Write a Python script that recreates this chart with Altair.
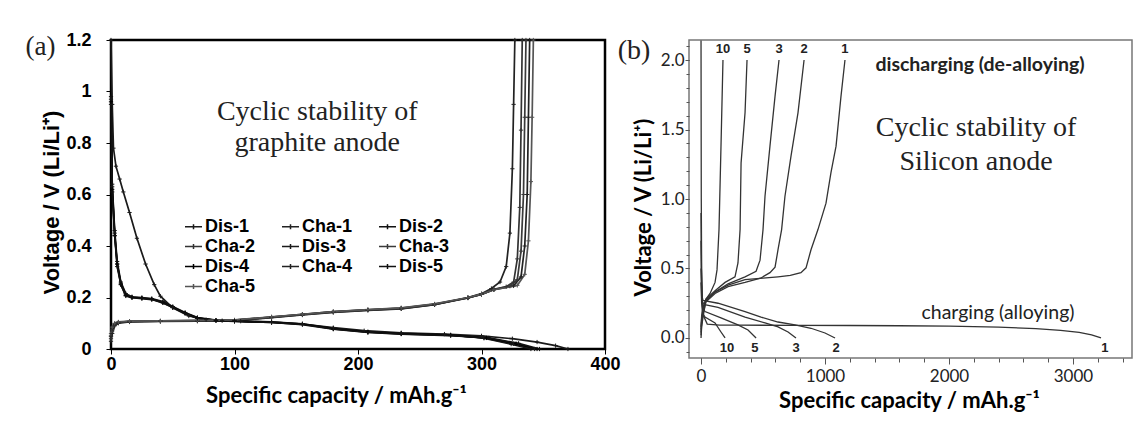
import altair as alt
import pandas as pd

# ---------------- Panel (a): graphite anode ----------------
a_series = ["Dis-1", "Cha-1", "Dis-2", "Cha-2", "Dis-3", "Cha-3", "Dis-4", "Cha-4", "Dis-5", "Cha-5"]
a_colors = ["#1a1a1a", "#222222", "#111111", "#333333", "#1a1a1a", "#3a3a3a", "#000000", "#222222", "#111111", "#555555"]

dis1_cap = [0, 1, 2, 4, 7, 10, 15, 21, 28, 35, 40, 50, 63, 77, 90, 105, 130, 155, 180, 205, 235, 270, 300, 325, 345, 360, 370]
dis1_v = [1.2, 0.95, 0.78, 0.71, 0.66, 0.61, 0.53, 0.43, 0.33, 0.25, 0.205, 0.16, 0.128, 0.114, 0.11, 0.108, 0.104, 0.097, 0.083, 0.071, 0.063, 0.058, 0.051, 0.04, 0.027, 0.013, 0.0]

dis2_cap = [0, 1, 3, 5, 8, 12, 17, 25, 33, 42, 50, 60, 70, 85, 100, 130, 155, 180, 208, 235, 275, 302, 324, 340]
dis2_v = [0.98, 0.64, 0.46, 0.34, 0.26, 0.215, 0.203, 0.2, 0.196, 0.184, 0.165, 0.142, 0.122, 0.112, 0.109, 0.105, 0.098, 0.08, 0.067, 0.061, 0.055, 0.042, 0.019, 0.0]
dis3_cap = [0, 1, 3, 5, 8, 12, 17, 25, 33, 42, 50, 60, 70, 85, 100, 130, 155, 180, 208, 235, 275, 302, 326, 343]
dis3_v = [0.97, 0.63, 0.45, 0.33, 0.255, 0.21, 0.201, 0.198, 0.194, 0.182, 0.163, 0.14, 0.121, 0.111, 0.108, 0.104, 0.097, 0.079, 0.066, 0.06, 0.054, 0.043, 0.02, 0.0]
dis4_cap = [0, 1, 3, 5, 8, 12, 17, 25, 33, 42, 50, 60, 70, 85, 100, 130, 155, 180, 208, 235, 275, 304, 328, 345]
dis4_v = [0.96, 0.62, 0.44, 0.33, 0.25, 0.208, 0.2, 0.197, 0.193, 0.18, 0.162, 0.139, 0.12, 0.111, 0.108, 0.103, 0.096, 0.078, 0.065, 0.059, 0.053, 0.043, 0.021, 0.0]
dis5_cap = [0, 1, 3, 5, 8, 12, 17, 25, 33, 42, 50, 60, 70, 85, 100, 130, 155, 180, 208, 235, 275, 306, 330, 347]
dis5_v = [0.95, 0.61, 0.44, 0.32, 0.25, 0.206, 0.199, 0.196, 0.192, 0.179, 0.161, 0.138, 0.119, 0.11, 0.107, 0.103, 0.095, 0.077, 0.064, 0.058, 0.052, 0.043, 0.022, 0.0]

cha1_cap = [0, 1, 3, 6, 15, 40, 70, 100, 130, 155, 180, 208, 235, 262, 289, 300, 308, 315, 320, 323, 325, 326, 327]
cha1_v = [0.03, 0.06, 0.09, 0.1, 0.105, 0.107, 0.108, 0.11, 0.122, 0.132, 0.142, 0.15, 0.156, 0.172, 0.2, 0.215, 0.235, 0.26, 0.32, 0.45, 0.7, 0.95, 1.2]
cha2_cap = [0, 1, 3, 6, 15, 40, 70, 100, 130, 155, 180, 208, 235, 262, 289, 300, 310, 320, 326, 329, 331, 332, 333]
cha2_v = [0.04, 0.07, 0.095, 0.102, 0.106, 0.108, 0.109, 0.111, 0.123, 0.133, 0.143, 0.151, 0.157, 0.172, 0.198, 0.213, 0.232, 0.242, 0.26, 0.35, 0.55, 0.85, 1.2]
cha3_cap = [0, 1, 3, 6, 15, 40, 70, 100, 130, 155, 180, 208, 235, 262, 289, 300, 310, 323, 329, 332, 334, 335, 336]
cha3_v = [0.05, 0.075, 0.097, 0.103, 0.107, 0.108, 0.11, 0.112, 0.124, 0.134, 0.144, 0.152, 0.158, 0.173, 0.198, 0.212, 0.231, 0.244, 0.27, 0.38, 0.6, 0.9, 1.2]
cha4_cap = [0, 1, 3, 6, 15, 40, 70, 100, 130, 155, 180, 208, 235, 262, 289, 300, 310, 326, 332, 335, 337, 338, 339]
cha4_v = [0.05, 0.08, 0.098, 0.104, 0.107, 0.109, 0.11, 0.112, 0.124, 0.135, 0.145, 0.152, 0.159, 0.174, 0.199, 0.212, 0.23, 0.245, 0.28, 0.4, 0.6, 0.9, 1.2]
cha5_cap = [0, 1, 3, 6, 15, 40, 70, 100, 130, 155, 180, 208, 235, 262, 289, 300, 310, 329, 335, 338, 340, 341, 342]
cha5_v = [0.06, 0.085, 0.1, 0.105, 0.108, 0.109, 0.111, 0.113, 0.125, 0.135, 0.145, 0.153, 0.16, 0.175, 0.2, 0.213, 0.23, 0.247, 0.29, 0.42, 0.65, 0.9, 1.2]

a_caps = {"Dis-1": dis1_cap, "Cha-1": cha1_cap, "Dis-2": dis2_cap, "Cha-2": cha2_cap, "Dis-3": dis3_cap,
          "Cha-3": cha3_cap, "Dis-4": dis4_cap, "Cha-4": cha4_cap, "Dis-5": dis5_cap, "Cha-5": cha5_cap}
a_volts = {"Dis-1": dis1_v, "Cha-1": cha1_v, "Dis-2": dis2_v, "Cha-2": cha2_v, "Dis-3": dis3_v,
           "Cha-3": cha3_v, "Dis-4": dis4_v, "Cha-4": cha4_v, "Dis-5": dis5_v, "Cha-5": cha5_v}

a_x_ticks = [0, 100, 200, 300, 400]
a_y_ticks = [0, 0.2, 0.4, 0.6, 0.8, 1.0, 1.2]

a_note_text = ["Cyclic stability of", "graphite anode", "(a)"]
a_note_cap = [167, 167, -57]
a_note_v = [0.891, 0.767, 1.14]
a_note_size = [28, 28, 27]

# ---------------- Panel (b): silicon anode ----------------
b_dis_cap = {
    "1": [0, 5, 16, 40, 113, 218, 355, 500, 621, 720, 806, 847, 887, 943, 1008, 1048, 1089, 1129, 1161],
    "2": [0, 5, 16, 40, 113, 218, 355, 480, 556, 597, 621, 650, 677, 726, 782, 831],
    "3": [0, 5, 16, 40, 113, 218, 355, 444, 476, 500, 516, 556, 597, 629],
    "5": [0, 5, 16, 40, 113, 194, 274, 298, 315, 323, 355, 371],
    "10": [0, 5, 16, 40, 73, 113, 129, 145, 161, 177],
}
b_dis_v = {
    "1": [0.0, 0.08, 0.15, 0.27, 0.33, 0.38, 0.42, 0.43, 0.44, 0.45, 0.47, 0.505, 0.635, 0.78, 0.97, 1.19, 1.38, 1.74, 2.0],
    "2": [0.02, 0.1, 0.18, 0.26, 0.32, 0.37, 0.40, 0.43, 0.47, 0.51, 0.635, 0.78, 1.02, 1.31, 1.62, 2.0],
    "3": [0.04, 0.12, 0.2, 0.27, 0.33, 0.39, 0.44, 0.48, 0.56, 0.78, 1.02, 1.38, 1.74, 2.0],
    "5": [0.06, 0.14, 0.21, 0.28, 0.34, 0.40, 0.44, 0.54, 0.78, 1.26, 1.62, 2.0],
    "10": [0.08, 0.16, 0.22, 0.28, 0.32, 0.40, 0.49, 0.78, 1.38, 2.0],
}
b_cha_cap = {
    "1": [0, 2, 5, 10, 20, 50, 150, 300, 800, 1200, 1600, 2000, 2400, 2700, 2900, 3050, 3150, 3226],
    "2": [0, 3, 8, 16, 137, 355, 484, 621, 758, 887, 1000, 1081],
    "3": [0, 4, 10, 30, 137, 355, 516, 621, 702, 766],
    "5": [0, 5, 12, 32, 161, 298, 379, 444],
    "10": [0, 5, 12, 32, 113, 161, 194],
}
b_cha_v = {
    "1": [2.14, 1.0, 0.5, 0.28, 0.16, 0.1, 0.093, 0.092, 0.091, 0.09, 0.088, 0.085, 0.078, 0.068, 0.055, 0.04, 0.022, 0.0],
    "2": [0.9, 0.5, 0.3, 0.27, 0.25, 0.19, 0.15, 0.115, 0.094, 0.07, 0.036, 0.0],
    "3": [0.7, 0.4, 0.26, 0.24, 0.22, 0.15, 0.108, 0.08, 0.043, 0.0],
    "5": [0.5, 0.3, 0.22, 0.19, 0.145, 0.094, 0.058, 0.0],
    "10": [0.4, 0.25, 0.18, 0.15, 0.108, 0.043, 0.0],
}

b_top_labels = ["10", "5", "3", "2", "1"]
b_top_cap = [177, 371, 629, 831, 1161]
b_top_v = [2.08, 2.08, 2.08, 2.08, 2.08]
b_bot_labels = ["10", "5", "3", "2", "1"]
b_bot_cap = [210, 435, 766, 1089, 3258]
b_bot_v = [-0.072, -0.072, -0.072, -0.072, -0.072]

b_x_major = [0, 1000, 2000, 3000]
b_x_minor = [0, 200, 400, 600, 800, 1000, 1200, 1400, 1600, 1800, 2000, 2200, 2400, 2600, 2800, 3000, 3200, 3400]
b_y_major = [0.0, 0.5, 1.0, 1.5, 2.0]
b_y_minor = [-0.1, 0.0, 0.1, 0.2, 0.3, 0.4, 0.5, 0.6, 0.7, 0.8, 0.9, 1.0, 1.1, 1.2, 1.3, 1.4, 1.5, 1.6, 1.7, 1.8, 1.9, 2.0, 2.1]

b_serif_text = ["Cyclic stability of", "Silicon anode", "(b)"]
b_serif_cap = [2218, 2218, -540]
b_serif_v = [1.45, 1.21, 2.01]
b_bold_text = ["discharging (de-alloying)"]
b_bold_cap = [2250]
b_bold_v = [1.92]
b_reg_text = ["charging (alloying)"]
b_reg_cap = [2395]
b_reg_v = [0.137]

# ---------------- build tables ----------------
rows = []
for s in a_series:
    for i, (c, v) in enumerate(zip(a_caps[s], a_volts[s])):
        rows.append({"series": s, "cap": c, "v": v, "idx": i})
df_a = pd.DataFrame(rows)

rows = []
for k in b_dis_cap:
    for i, (c, v) in enumerate(zip(b_dis_cap[k], b_dis_v[k])):
        rows.append({"curve": "dis-" + k, "cap": c, "v": v, "idx": i})
for k in b_cha_cap:
    for i, (c, v) in enumerate(zip(b_cha_cap[k], b_cha_v[k])):
        rows.append({"curve": "cha-" + k, "cap": c, "v": v, "idx": i})
df_b = pd.DataFrame(rows)

df_a_note = pd.DataFrame({"t": a_note_text, "cap": a_note_cap, "v": a_note_v, "s": a_note_size})
df_b_nums = pd.DataFrame({"t": b_top_labels + b_bot_labels, "cap": b_top_cap + b_bot_cap, "v": b_top_v + b_bot_v})
df_b_serif = pd.DataFrame({"t": b_serif_text, "cap": b_serif_cap, "v": b_serif_v})
df_b_bold = pd.DataFrame({"t": b_bold_text, "cap": b_bold_cap, "v": b_bold_v})
df_b_reg = pd.DataFrame({"t": b_reg_text, "cap": b_reg_cap, "v": b_reg_v})

# ---------------- panel (a) ----------------
ax_x = alt.X("cap:Q", scale=alt.Scale(domain=[0, 400], nice=False, zero=False),
             axis=alt.Axis(values=a_x_ticks, grid=False, domain=False, tickSize=5, tickColor="black",
                           labelFont="Liberation Sans", labelFontWeight="bold", labelFontSize=18,
                           labelColor="black", labelPadding=1, labelFlush=False,
                           title="Specific capacity / mAh.g\u207b\u00b9", titleFont="Lato",
                           titleFontWeight="bold", titleFontSize=22, titleColor="black",
                           titleX=225, titleY=46, titleBaseline="middle"))
ax_y = alt.Y("v:Q", scale=alt.Scale(domain=[0, 1.2], nice=False, zero=False),
             axis=alt.Axis(values=a_y_ticks, format="~g", grid=False, domain=False, tickSize=5,
                           tickColor="black", labelFont="Liberation Sans", labelFontWeight="bold",
                           labelFontSize=18, labelColor="black", labelPadding=15, labelFlush=False,
                           title="Voltage / V (Li/Li\u207a)", titleFont="Liberation Sans",
                           titleFontWeight="bold", titleFontSize=22, titleColor="black",
                           titleX=-60, titleY=162, titleBaseline="middle"))

marker_path = "M-1,0L1,0M0,-1L0,1"
lines_a = alt.Chart(df_a).mark_line(
    strokeWidth=1.7,
    point=alt.OverlayMarkDef(shape=marker_path, filled=False, size=18, strokeWidth=1),
).encode(
    x=ax_x,
    y=ax_y,
    color=alt.Color("series:N", scale=alt.Scale(domain=a_series, range=a_colors),
                    legend=alt.Legend(title=None, orient="none", direction="horizontal",
                                      legendX=73, legendY=177, columns=3,
                                      columnPadding=23, rowPadding=1, padding=0,
                                      symbolType="M-1,0L1,0M0,-0.3L0,0.3", symbolSize=289,
                                      symbolStrokeWidth=1.5, labelOffset=2,
                                      labelFont="Liberation Sans", labelFontWeight="bold",
                                      labelFontSize=18, labelColor="black", labelLimit=200)),
    order="idx:Q",
)

notes_a = alt.Chart(df_a_note).mark_text(font="Liberation Serif", color="#222222", baseline="alphabetic",
                                         align="center").encode(
    x="cap:Q", y="v:Q", text="t:N", size=alt.Size("s:Q", scale=None, legend=None)
)

panel_a = alt.layer(lines_a, notes_a).properties(
    width=494, height=309, view=alt.ViewBackground(stroke="black", strokeWidth=2.5)
)

# ---------------- panel (b) ----------------
b_xscale = alt.Scale(domain=[-97, 3476], nice=False, zero=False)
b_yscale = alt.Scale(domain=[-0.144, 2.144], nice=False, zero=False)

bx = alt.X("cap:Q", scale=b_xscale,
           axis=alt.Axis(values=b_x_major, orient="bottom", grid=False, domain=False, tickSize=6,
                         tickColor="#555555", format="d", labelFlush=False, labelFont="Lato",
                         labelFontSize=17, labelColor="#222222", labelPadding=4,
                         title="Specific capacity / mAh.g\u207b\u00b9", titleFont="Lato",
                         titleFontWeight="bold", titleFontSize=22, titleColor="black",
                         titleX=220, titleY=42, titleBaseline="middle"))
by = alt.Y("v:Q", scale=b_yscale,
           axis=alt.Axis(values=b_y_major, orient="left", format=".1f", grid=False, domain=False,
                         tickSize=4, tickColor="#555555", labelFlush=False, labelFont="Lato",
                         labelFontSize=17, labelColor="#222222", labelPadding=1,
                         title="Voltage / V (Li/Li\u207a)", titleFont="Lato", titleFontWeight="bold",
                         titleFontSize=22, titleColor="black",
                         titleX=-46, titleY=167, titleBaseline="middle"))
bx_minor = alt.X("cap:Q", scale=b_xscale,
                 axis=alt.Axis(values=b_x_minor, orient="bottom", grid=False, domain=False, labels=False,
                               tickSize=4, tickColor="#555555", title=None))
by_minor = alt.Y("v:Q", scale=b_yscale,
                 axis=alt.Axis(values=b_y_minor, orient="left", grid=False, domain=False, labels=False,
                               tickSize=3, tickColor="#555555", title=None))

lines_b = alt.Chart(df_b).mark_line(strokeWidth=1.3, color="#333333", clip=True).encode(
    x=bx, y=by, detail="curve:N", order="idx:Q"
)
nums_b = alt.Chart(df_b_nums).mark_text(font="Liberation Sans", fontWeight="bold", fontSize=13,
                                        color="#222222", baseline="middle").encode(
    x=bx_minor, y=by_minor, text="t:N")
serif_b = alt.Chart(df_b_serif).mark_text(font="Liberation Serif", fontSize=28, color="#222222",
                                          baseline="alphabetic").encode(
    x=alt.X("cap:Q", scale=b_xscale, axis=None), y=alt.Y("v:Q", scale=b_yscale, axis=None), text="t:N")
bold_b = alt.Chart(df_b_bold).mark_text(font="Lato", fontWeight="bold", fontSize=19.5, color="#222222",
                                        baseline="alphabetic").encode(
    x=alt.X("cap:Q", scale=b_xscale, axis=None), y=alt.Y("v:Q", scale=b_yscale, axis=None), text="t:N")
reg_b = alt.Chart(df_b_reg).mark_text(font="Lato", fontSize=19.5, color="#222222",
                                      baseline="alphabetic").encode(
    x=alt.X("cap:Q", scale=b_xscale, axis=None), y=alt.Y("v:Q", scale=b_yscale, axis=None), text="t:N")

panel_b = alt.layer(lines_b, nums_b, serif_b, bold_b, reg_b).resolve_scale(
    x="independent", y="independent"
).properties(
    width=443, height=318, view=alt.ViewBackground(stroke="#777777", strokeWidth=1.5)
)

chart = alt.hconcat(panel_a, panel_b, spacing=84, bounds="flush").properties(
    padding={"left": 16, "top": 21, "right": 0, "bottom": 0}
).configure(background="white").configure_view(stroke="#777777", strokeWidth=1.5)

chart.save("out.html", embed_options={"renderer": "svg", "actions": False})
